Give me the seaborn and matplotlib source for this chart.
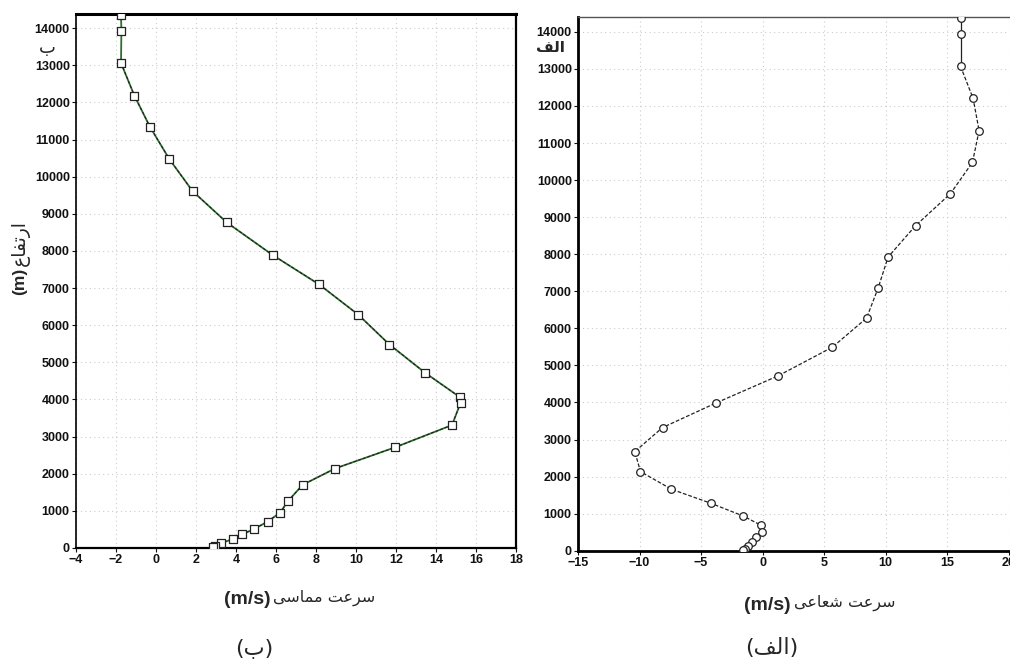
import matplotlib
matplotlib.use("Agg")
import matplotlib.pyplot as plt
import seaborn as sns
import numpy as np
from matplotlib.ft2font import FT2Font
from matplotlib import font_manager as fm

# ---------------- data ----------------
tan_height = [14350, 13920, 13060, 12180, 11340, 10470, 9610, 8770, 7890, 7100,
              6280, 5480, 4720, 4060, 3910, 3310, 2710, 2140, 1700, 1275, 950,
              710, 510, 370, 240, 125, 60, 25]
tan_speed = [-1.75, -1.73, -1.75, -1.08, -0.3, 0.67, 1.83, 3.53, 5.83, 8.15,
             10.12, 11.67, 13.45, 15.2, 15.23, 14.8, 11.95, 8.95, 7.33, 6.62, 6.2,
             5.58, 4.9, 4.32, 3.83, 3.23, 2.95, 2.83]

rad_height = [14360, 13945, 13070, 12205, 11335, 10478, 9633, 8769, 7923, 7086,
              6276, 5493, 4718, 3980, 3322, 2674, 2134, 1658, 1280, 937, 694,
              497, 362, 243, 135, 54, 20]
rad_speed = [16.1, 16.1, 16.1, 17.12, 17.61, 17.07, 15.28, 12.44, 10.21, 9.4,
             8.46, 5.69, 1.27, -3.82, -8.13, -10.38, -9.92, -7.4, -4.2, -1.58,
             -0.16, -0.03, -0.49, -0.85, -1.17, -1.44, -1.58]

tan_xticks = [-4, -2, 0, 2, 4, 6, 8, 10, 12, 14, 16, 18]
rad_xticks = [-15, -10, -5, 0, 5, 10, 15, 20]
yticks = list(range(0, 14001, 1000))

lbl_height = "ارتفاع"
lbl_tan = "سرعت مماسی"
lbl_rad = "سرعت شعاعی"
lbl_b = "ب"
lbl_alef = "الف"
unit_ms = "(m/s)"
unit_m = "(m)"

# ---------------- simple Arabic shaping (presentation forms, visual order) ----------------
dejavu_path = fm.findfont(fm.FontProperties(family="DejaVu Sans"))
cmap = FT2Font(dejavu_path).get_charmap()

FORMS = {
    'ا': (0xFE8D, 0xFE8E, None, None),
    'ب': (0xFE8F, 0xFE90, 0xFE91, 0xFE92),
    'ت': (0xFE95, 0xFE96, 0xFE97, 0xFE98),
    'ر': (0xFEAD, 0xFEAE, None, None),
    'س': (0xFEB1, 0xFEB2, 0xFEB3, 0xFEB4),
    'ش': (0xFEB5, 0xFEB6, 0xFEB7, 0xFEB8),
    'ع': (0xFEC9, 0xFECA, 0xFECB, 0xFECC),
    'ف': (0xFED1, 0xFED2, 0xFED3, 0xFED4),
    'ل': (0xFEDD, 0xFEDE, 0xFEDF, 0xFEE0),
    'م': (0xFEE1, 0xFEE2, 0xFEE3, 0xFEE4),
    'ی': (0xFBFC, 0xFBFD, 0xFBFE, 0xFBFF),
}
if 0xFBFD not in cmap:
    FORMS['ی'] = (0xFEEF, 0xFEF0, 0xFEF3, 0xFEF4)
DUAL = {c for c, f in FORMS.items() if f[2] is not None}


def shape(text):
    out = []
    for i, ch in enumerate(text):
        if ch not in FORMS:
            out.append(ch)
            continue
        prev = text[i - 1] if i > 0 else ''
        nxt = text[i + 1] if i + 1 < len(text) else ''
        jp = prev in DUAL
        jn = ch in DUAL and nxt in FORMS
        f = FORMS[ch]
        if jp and jn:
            cp = f[3]
        elif jp:
            cp = f[1]
        elif jn:
            cp = f[2]
        else:
            cp = f[0]
        out.append(chr(cp))
    return ''.join(reversed(out))


# ---------------- figure ----------------
sns.set_theme(style="white")
plt.rcParams['font.family'] = ['Liberation Sans', 'DejaVu Sans']

fig = plt.figure(figsize=(10.10, 6.62), dpi=100)
W, H = 1010, 662
axL = fig.add_axes([76 / W, 1 - 548 / H, (516 - 76) / W, (548 - 14) / H])
axR = fig.add_axes([578 / W, 1 - 550.7 / H, (1008.5 - 578) / W, (550.7 - 17) / H])

grid_kw = dict(color="#cccccc", linestyle=(0, (1, 3)), linewidth=0.8)

# left panel: tangential
green = "#2f6f2f"
sns.lineplot(x=tan_speed, y=tan_height, sort=False, estimator=None, ax=axL,
             color=green, linewidth=1.3, zorder=3)
sns.lineplot(x=tan_speed[2:], y=tan_height[2:], sort=False, estimator=None, ax=axL,
             color="#1a1a1a", linewidth=0.7, linestyle=(0, (3, 2)), zorder=4)
sns.scatterplot(x=tan_speed, y=tan_height, ax=axL, marker='s', s=34,
                facecolor="white", edgecolor="#222222", linewidth=0.9, zorder=5)
axL.set_xlim(-4, 18)
axL.set_ylim(0, 14380)
axL.set_xticks(tan_xticks)
axL.set_xticklabels([str(t).replace('-', '\u2212') for t in tan_xticks])

# right panel: radial
sns.lineplot(x=rad_speed[2:], y=rad_height[2:], sort=False, estimator=None, ax=axR,
             color="#222222", linewidth=0.9, linestyle=(0, (3, 1.5)), zorder=3)
sns.lineplot(x=rad_speed[:3], y=rad_height[:3], sort=False, estimator=None, ax=axR,
             color="#222222", linewidth=0.9, zorder=3)
sns.scatterplot(x=rad_speed, y=rad_height, ax=axR, marker='o', s=30,
                facecolor="white", edgecolor="#222222", linewidth=0.9, zorder=5)
axR.set_xlim(-15, 20)
axR.set_ylim(0, 14400)
axR.set_xticks(rad_xticks)
axR.set_xticklabels([str(t).replace('-', '\u2212') for t in rad_xticks])

for ax in (axL, axR):
    ax.set_yticks(yticks)
    ax.grid(True, **grid_kw)
    ax.set_axisbelow(True)
    ax.tick_params(axis='both', which='major', direction='out', length=3, width=0.8,
                   labelsize=9, colors="#111111", pad=1.5, left=True, bottom=True)
    for lab in ax.get_xticklabels() + ax.get_yticklabels():
        lab.set_fontweight('bold')
    ax.set_xlabel('')
    ax.set_ylabel('')

# spines
for s in axL.spines.values():
    s.set_color('black')
axL.spines['top'].set_linewidth(2.2)
axL.spines['left'].set_linewidth(1.2)
axL.spines['right'].set_linewidth(1.6)
axL.spines['bottom'].set_linewidth(1.6)

axR.spines['top'].set_color('#555555')
axR.spines['top'].set_linewidth(1.0)
axR.spines['left'].set_color('black')
axR.spines['left'].set_linewidth(2.0)
axR.spines['bottom'].set_color('black')
axR.spines['bottom'].set_linewidth(2.0)
axR.spines['right'].set_visible(False)


def fx(px):
    return px / W


def fy(py):
    return 1 - py / H


ar = ['DejaVu Sans']

# x-axis labels
fig.text(fx(271), fy(600), unit_ms, ha='right', va='center', fontsize=14,
         fontweight='bold', family=['Liberation Sans'])
fig.text(fx(273), fy(598), shape(lbl_tan), ha='left', va='center', fontsize=11.5,
         family=ar)
fig.text(fx(791), fy(605), unit_ms, ha='right', va='center', fontsize=14,
         fontweight='bold', family=['Liberation Sans'])
fig.text(fx(794), fy(603), shape(lbl_rad), ha='left', va='center', fontsize=11.5,
         family=ar)

# y label (left panel)
fig.text(fx(20), fy(268), unit_m, ha='center', va='top', rotation=90, fontsize=12.5,
         fontweight='bold', family=['Liberation Sans'])
fig.text(fx(20), fy(266), shape(lbl_height), ha='center', va='bottom', rotation=90,
         fontsize=13.5, family=ar)

# panel tags
fig.text(fx(47), fy(48), shape(lbl_b), ha='center', va='center', fontsize=13,
         family=ar)
fig.text(fx(550), fy(47), shape(lbl_alef), ha='center', va='center', fontsize=11,
         fontweight='bold', family=ar)

# captions
fig.text(fx(254), fy(648), '(' + shape(lbl_b) + ')', ha='center', va='center',
         fontsize=16, family=ar)
fig.text(fx(772), fy(648), '(' + shape(lbl_alef) + ')', ha='center', va='center',
         fontsize=16, family=ar)

fig.savefig("out.png", dpi=100)
